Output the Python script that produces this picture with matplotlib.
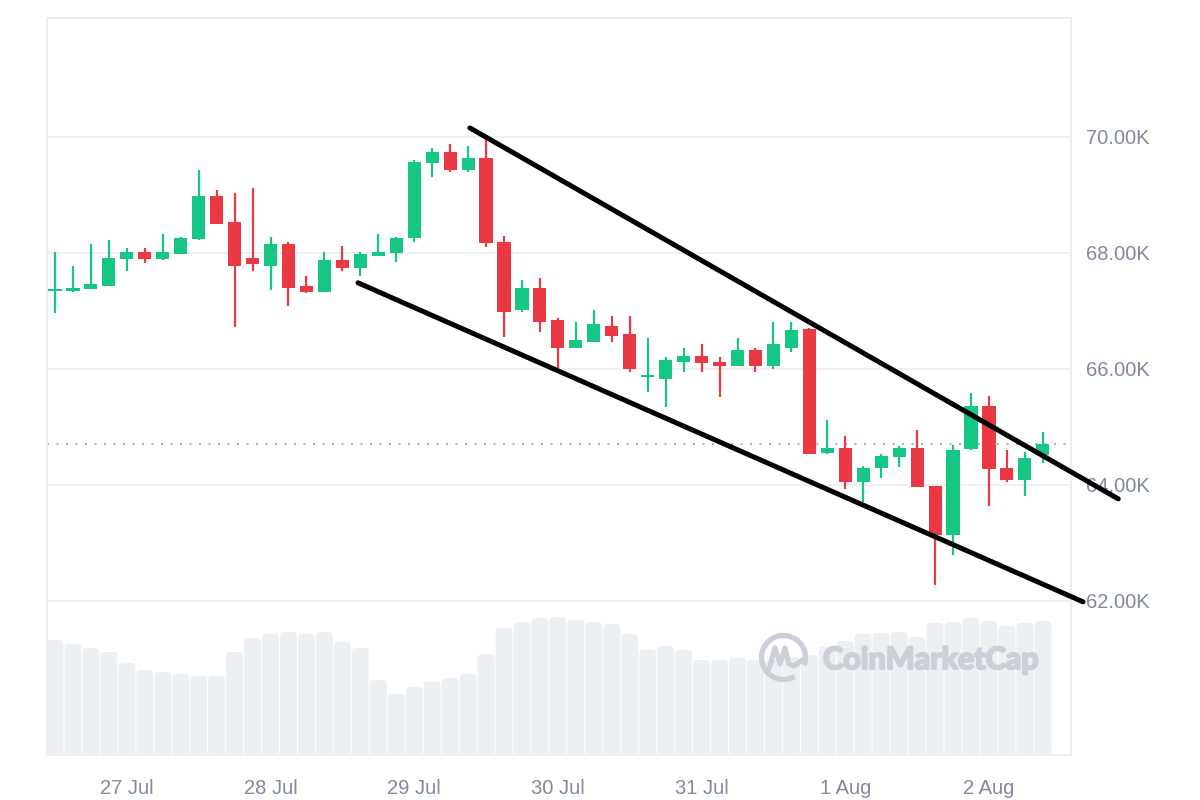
import matplotlib
matplotlib.use("Agg")
import matplotlib.pyplot as plt
import matplotlib.dates as mdates
import matplotlib.patheffects as pe
from matplotlib.patches import Arc, FancyBboxPatch
from matplotlib.lines import Line2D
import numpy as np
import pandas as pd

# 3-hour candles, 26 Jul 12:00 -> 2 Aug 09:00
times = pd.date_range("2024-07-26 12:00", periods=56, freq="3h")

opens = [67345, 67340, 67375, 67435, 67890, 68010, 67890, 67990, 68235, 68985,
         68535, 67920, 67780, 68155, 67435, 67335, 67880, 67745, 67955, 67995,
         68265, 69545, 69745, 69430, 69645, 68195, 67015, 67390, 66845, 66365,
         66470, 66740, 66605, 65860, 65825, 66125, 66225, 66125, 66055, 66330,
         66055, 66365, 66685, 64545, 64635, 64055, 64300, 64480, 64635, 63985,
         63140, 64615, 65360, 64290, 64085, 64515]
highs = [68020, 67780, 68155, 68225, 68085, 68085, 68320, 68280, 69430, 69085,
         69030, 69115, 68280, 68185, 67605, 68010, 68120, 68010, 68330, 68270,
         69605, 69805, 69880, 69845, 69980, 68295, 67535, 67565, 66875, 66815,
         67015, 66915, 66915, 66530, 66210, 66355, 66430, 66210, 66530, 66355,
         66815, 66815, 66700, 65120, 64845, 64330, 64535, 64670, 64950, 63990,
         64690, 65590, 65535, 64605, 64575, 64920]
lows = [66970, 67330, 67370, 67430, 67680, 67820, 67885, 67985, 68230, 68500,
        66720, 67680, 67360, 67090, 67305, 67330, 67680, 67610, 67950, 67850,
        68195, 69305, 69400, 69400, 68100, 66545, 66985, 66645, 66010, 66360,
        66465, 66470, 65955, 65610, 65340, 65955, 65955, 65510, 66050, 65955,
        65995, 66300, 64530, 64540, 63925, 63710, 64125, 64305, 63960, 62275,
        62795, 64610, 63640, 64055, 63810, 64375]
closes = [67380, 67390, 67465, 67920, 68010, 67890, 68010, 68260, 68985, 68505,
          67780, 67815, 68155, 67400, 67335, 67880, 67745, 67985, 68010, 68265,
          69575, 69745, 69430, 69635, 68165, 66990, 67390, 66815, 66365, 66500,
          66775, 66575, 65995, 65880, 66155, 66225, 66100, 66055, 66330, 66055,
          66430, 66670, 64535, 64635, 64055, 64290, 64500, 64635, 63960, 63140,
          64605, 65360, 64270, 64085, 64460, 64705]
# volume, relative units
volumes = [1.15, 1.11, 1.07, 1.03, 0.92, 0.85, 0.83, 0.81, 0.79, 0.79,
           1.03, 1.17, 1.21, 1.23, 1.21, 1.23, 1.13, 1.07, 0.75, 0.61,
           0.68, 0.73, 0.77, 0.81, 1.01, 1.27, 1.33, 1.37, 1.38, 1.35,
           1.33, 1.31, 1.21, 1.05, 1.09, 1.05, 0.95, 0.95, 0.97, 0.95,
           0.95, 0.98, 1.00, 1.08, 1.14, 1.21, 1.22, 1.23, 1.18, 1.32,
           1.33, 1.37, 1.34, 1.29, 1.32, 1.34]

# drawn trend lines (channel)
upper_times = pd.to_datetime(["2024-07-29 09:18", "2024-08-02 21:36"])
upper_prices = [70155, 63760]
lower_times = pd.to_datetime(["2024-07-28 14:37", "2024-08-02 15:43"])
lower_prices = [67485, 61985]

price_ticks = [62000, 64000, 66000, 68000, 70000]
day_ticks = pd.date_range("2024-07-27", "2024-08-02", freq="D")

GREEN = "#16c784"
RED = "#ea3943"
GRID = "#eceef2"
TXT = "#808a9d"

plt.rcParams["font.family"] = ["Liberation Sans", "DejaVu Sans"]

fig = plt.figure(figsize=(12, 8), dpi=100)
ax_vol = fig.add_axes([47 / 1200, 45 / 800, 1024 / 1200, 737 / 800])
ax = ax_vol.twinx()

x = mdates.date2num(times)
step = 0.125

# volume bars with rounded tops
ax_vol.set_xlim(x[0] - 0.0556, x[0] + 7.071)
ax_vol.set_ylim(0, 7.37)
bw = step * 0.94
for xi, v in zip(x, volumes):
    ax_vol.add_patch(FancyBboxPatch((xi - bw / 2, -0.2), bw, v + 0.2,
                                    boxstyle="round,pad=0,rounding_size=0.028",
                                    mutation_aspect=1.44, facecolor="#edf0f3",
                                    edgecolor="none", zorder=1))
ax_vol.set_yticks([])

# candles
o = np.array(opens)
c = np.array(closes)
up = c >= o
cols = np.where(up, GREEN, RED)
bottom = np.minimum(o, c)
height = np.maximum(np.abs(c - o), 30)
ax.vlines(x, lows, highs, colors=cols, linewidth=1.6, zorder=3)
ax.bar(x, height, bottom=bottom, width=step * 0.73, color=cols, zorder=4)

# last price dotted line
ax.axhline(closes[-1], color="#9aa1ae", linewidth=1.2, linestyle=(0, (1.2, 4.5)), zorder=2)

# channel lines
for tt, pp in [(upper_times, upper_prices), (lower_times, lower_prices)]:
    ax.plot(mdates.date2num(tt), pp, color="black", linewidth=3.6,
            solid_capstyle="round", zorder=6, clip_on=False)

ax.set_ylim(59345, 72050)
ax.set_xlim(x[0] - 0.0556, x[0] + 7.071)
ax.set_yticks(price_ticks)
ax.set_yticklabels([f"{v / 1000:.2f}K" for v in price_ticks])
ax.yaxis.tick_right()
ax.tick_params(axis="y", length=0, pad=11, labelsize=14.5, labelcolor=TXT)
ax.grid(axis="y", color=GRID, linewidth=1.2)
ax.set_axisbelow(True)

ax_vol.set_xticks(mdates.date2num(day_ticks))
ax_vol.set_xticklabels([f"{d.day} {d:%b}" for d in day_ticks])
ax_vol.tick_params(axis="x", length=0, pad=17, labelsize=14.5, labelcolor=TXT)
ax.tick_params(axis="x", length=0)

for a in (ax, ax_vol):
    for s in a.spines.values():
        s.set_color(GRID)
        s.set_linewidth(1.2)

# watermark
wm_col = "#cbd0d8"
logo = Arc((7.835, 1.425), 0.44, 0.44, theta1=-20, theta2=300, linewidth=3.8,
           color=wm_col, transform=fig.dpi_scale_trans, zorder=10)
fig.add_artist(logo)
mx = np.array([7.69, 7.75, 7.80, 7.85, 7.89, 7.94, 8.02])
my = np.array([1.31, 1.52, 1.36, 1.52, 1.36, 1.34, 1.40])
fig.add_artist(Line2D(mx, my, color=wm_col, linewidth=3.6, transform=fig.dpi_scale_trans,
                      solid_joinstyle="round", solid_capstyle="round", zorder=10))
fig.text(823 / 1200, 140 / 800, "CoinMarketCap", fontsize=22, fontweight="bold",
         family=["Lato", "DejaVu Sans"], color=wm_col, va="center", ha="left", zorder=10,
         path_effects=[pe.withStroke(linewidth=1.6, foreground=wm_col)])

fig.savefig("out.png", dpi=100, facecolor="white")
